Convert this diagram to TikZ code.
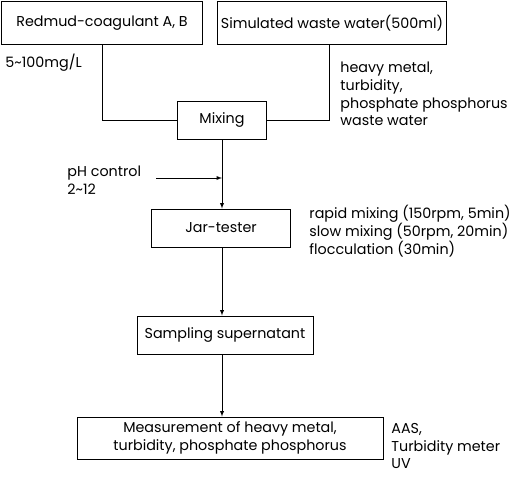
\documentclass[tikz,border=0pt]{standalone}
\usepackage{fontspec}
\setmainfont{Poppins}
\usetikzlibrary{calc}

\begin{document}
\begin{tikzpicture}[x=1pt,y=-1pt,line width=.9pt,
  font=\fontsize{14.3}{17.8}\selectfont,
  process/.style={draw,minimum height=38pt,fill=white,inner sep=2pt},
  note/.style={align=left,anchor=west,inner sep=0pt},
  link/.style={},
  arrow/.style={-latex}]
  \useasboundingbox (0,0) rectangle (518,479);

  \node[process,minimum width=201pt,minimum height=43pt] (coag) at (102,23) {Redmud-coagulant A, B};
  \node[process,minimum width=229pt,minimum height=43pt] (water) at (332,23) {Simulated waste water(500ml)};
  \node[process,minimum width=89pt] (mixing) at (222,120) {Mixing};
  \node[process,minimum width=139pt] (jar) at (221,228) {Jar-tester};
  \node[process,minimum width=176pt] (sampling) at (225,335) {Sampling supernatant};
  \node[process,minimum width=306pt,minimum height=42pt,align=center] (measure) at (230,438)
    {Measurement of heavy metal,\\turbidity, phosphate phosphorus};

  \node[note] (dose) at (5,63) {5\textasciitilde100mg/L};
  \node[note] (target) at (340,94) {heavy metal,\\turbidity,\\phosphate phosphorus\\waste water};
  \node[note] (ph label) at (67,180) {pH control\\2\textasciitilde12};
  \node[note] (cond) at (309,231) {rapid mixing (150rpm, 5min)\\slow mixing (50rpm, 20min)\\flocculation (30min)};
  \node[note] (instr) at (391,446) {AAS,\\Turbidity meter\\UV};

  \coordinate (ph) at (156,178);

  \draw[link] (coag.south) |- (mixing.west);
  \draw[link] ($ (water.south) + (-3,0) $) |- (mixing.east);

  \draw[arrow] (mixing.south) -- (mixing.south |- jar.north);
  \draw[arrow] (ph) -- (ph -| mixing.south);
  \draw[arrow] (mixing.south |- jar.south) -- (mixing.south |- sampling.north);
  \draw[arrow] (mixing.south |- sampling.south) -- (mixing.south |- measure.north);
\end{tikzpicture}
\end{document}
